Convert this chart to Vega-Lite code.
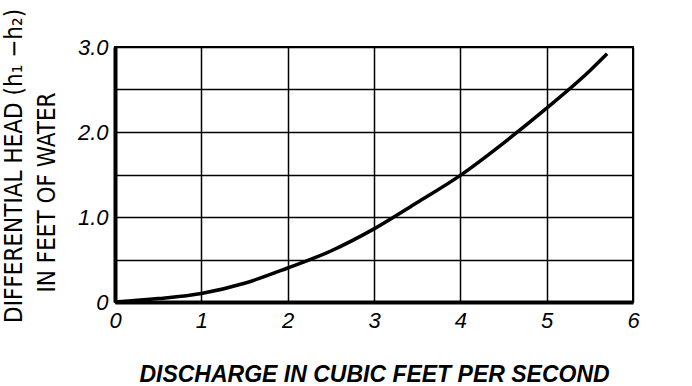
{
  "$schema": "https://vega.github.io/schema/vega-lite/v6.json",
  "width": 518,
  "height": 255,
  "autosize": "none",
  "padding": {"left": 115, "top": 47, "right": 59, "bottom": 84},
  "background": "white",
  "title": {
    "text": "DIFFERENTIAL HEAD (h₁ −h₂)",
    "orient": "left",
    "anchor": "start",
    "frame": "group",
    "font": "DejaVu Sans Condensed, Liberation Sans",
    "fontSize": 24,
    "fontWeight": "normal",
    "color": "black",
    "offset": 8,
    "dx": -21
  },
  "config": {
    "view": {"stroke": "black", "strokeWidth": 2},
    "axis": {
      "gridColor": "black",
      "gridOpacity": 1,
      "gridWidth": 1.5,
      "domainColor": "black",
      "domainWidth": 4,
      "ticks": false,
      "labelFont": "Liberation Sans",
      "labelFontStyle": "italic",
      "labelFontWeight": "normal",
      "labelFontSize": 22,
      "labelColor": "black"
    }
  },
  "data": {
    "values": [
      {"q": 0.0, "h": 0.0},
      {"q": 0.5, "h": 0.04},
      {"q": 1.0, "h": 0.1},
      {"q": 1.5, "h": 0.22},
      {"q": 2.0, "h": 0.4},
      {"q": 2.5, "h": 0.6},
      {"q": 3.0, "h": 0.86},
      {"q": 3.5, "h": 1.17},
      {"q": 4.0, "h": 1.49},
      {"q": 4.5, "h": 1.87},
      {"q": 5.0, "h": 2.28},
      {"q": 5.5, "h": 2.72},
      {"q": 5.7, "h": 2.92}
    ]
  },
  "mark": {"type": "line", "color": "black", "strokeWidth": 3.5, "interpolate": "monotone"},
  "encoding": {
    "x": {
      "field": "q",
      "type": "quantitative",
      "scale": {"domain": [0, 6], "nice": false},
      "axis": {
        "values": [0, 1, 2, 3, 4, 5, 6],
        "title": "DISCHARGE IN CUBIC FEET PER SECOND",
        "titleFont": "Liberation Sans",
        "titleFontStyle": "italic",
        "titleFontWeight": "bold",
        "titleFontSize": 23,
        "titleColor": "black",
        "titlePadding": 32,
        "labelPadding": 8,
        "labelAlign": "center",
        "labelFlush": false
      }
    },
    "y": {
      "field": "h",
      "type": "quantitative",
      "scale": {"domain": [0, 3], "nice": false},
      "axis": {
        "values": [0, 0.5, 1, 1.5, 2, 2.5, 3],
        "labelExpr": "datum.value == 0 ? '0' : (datum.value % 1 == 0 ? format(datum.value, '.1f') : '')",
        "labelPadding": 7,
        "labelBaseline": "middle",
        "labelFlush": false,
        "title": "IN FEET OF WATER",
        "titleFont": "DejaVu Sans Condensed, Liberation Sans",
        "titleFontWeight": "normal",
        "titleFontSize": 24,
        "titleColor": "black",
        "titleX": -68,
        "titleY": 145,
        "titleAlign": "center",
        "titleBaseline": "middle",
        "titleAngle": -90
      }
    }
  }
}
